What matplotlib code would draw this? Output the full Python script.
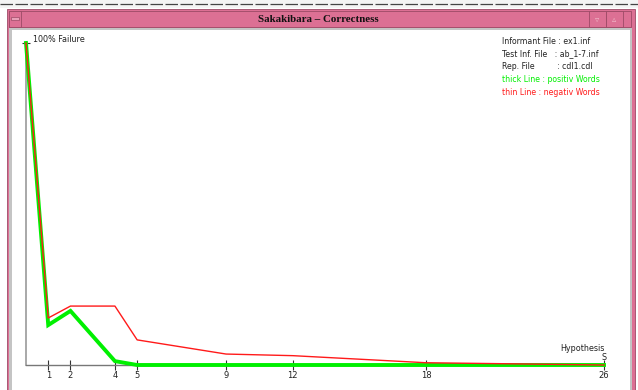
import numpy as np
import matplotlib
matplotlib.use("Agg")
import matplotlib.pyplot as plt
from matplotlib.patches import Rectangle

# values
hypothesis = [0, 1, 2, 4, 5, 9, 12, 18, 26]
positiv_fail = [100, 12.4, 16.8, 1.2, 0, 0, 0, 0, 0]
negativ_fail = [100, 14.6, 18.3, 18.3, 7.8, 3.4, 2.9, 0.7, 0]
tick_pos = [1, 2, 4, 5, 9, 12, 18, 26]

info_lines = ["Informant File : ex1.inf",
              "Test Inf. File   : ab_1-7.inf",
              "Rep. File         : cdl1.cdl",
              "thick Line : positiv Words",
              "thin Line : negativ Words"]
info_colors = ["#222222", "#222222", "#222222", "#00f000", "#ff1a1a"]

W, H = 638, 390
fig = plt.figure(figsize=(W / 100, H / 100), dpi=100)
fig.patch.set_facecolor("white")


def box(x0, y0, x1, y1, fc, ec="none", lw=0.0):
    # pixel coords with origin top-left
    fig.patches.append(Rectangle((x0 / W, 1 - y1 / H), (x1 - x0) / W, (y1 - y0) / H,
                                 transform=fig.transFigure, facecolor=fc,
                                 edgecolor=ec, linewidth=lw, zorder=-5))


pink = "#dc7094"
dark_pink = "#9c4a66"

# window behind and the frame
box(0, 0, 638, 8, "#f4f4f4")
fig.add_artist(plt.Line2D([0, 1], [1 - 4 / H, 1 - 4 / H], color="#444444",
                          lw=0.9, ls=(0, (10, 2)), transform=fig.transFigure, zorder=-4))
box(7, 9, 635, 390, pink, dark_pink, 0.6)
box(9, 11, 631, 27, pink, dark_pink, 0.6)
box(9, 11, 21, 27, pink, dark_pink, 0.6)
box(11, 17, 19, 20, "#e8a0b8", dark_pink, 0.5)
box(589, 11, 606, 27, pink, dark_pink, 0.6)
box(606, 11, 623, 27, pink, dark_pink, 0.6)
fig.text(597.5 / W, 1 - 19 / H, "\u25bf", color="#f0b8c8", fontsize=6, ha="center", va="center")
fig.text(614.5 / W, 1 - 19 / H, "\u25b5", color="#f0b8c8", fontsize=6, ha="center", va="center")
box(9, 28, 632, 390, "#c4c4c4")
box(12, 30, 630, 390, "white")

fig.text(318 / W, 1 - 19.5 / H, "Sakakibara \u2013 Correctness", fontsize=7.8,
         fontweight="bold", family="Liberation Serif", ha="center", va="center",
         color="#111111")

# plot area: x 0..26 -> px 26..604, y 0..100 -> px 365..43
ax = fig.add_axes([26 / W, 1 - 365 / H, 578 / W, 322 / H], zorder=2)
ax.set_xlim(0, 26)
ax.set_ylim(0, 100)
ax.set_facecolor("none")
for s in ["top", "right"]:
    ax.spines[s].set_visible(False)
ax.spines["left"].set_color("#999999")
ax.spines["bottom"].set_color("#777777")
ax.spines["left"].set_linewidth(1.2)
ax.spines["bottom"].set_linewidth(1.0)

ax.plot(hypothesis, positiv_fail, color="#00f000", lw=2.8, clip_on=False,
        solid_joinstyle="miter", zorder=3)
ax.plot(hypothesis, negativ_fail, color="#ff1a1a", lw=1.0, clip_on=False, zorder=4)

ax.set_xticks(tick_pos)
ax.set_xticklabels([str(t) for t in tick_pos])
ax.tick_params(axis="x", direction="inout", length=7, width=0.8, color="#333333",
               labelsize=6, labelcolor="#222222", pad=1)
ax.set_yticks([100])
ax.set_yticklabels([])
ax.tick_params(axis="y", direction="inout", length=6, width=0.8, color="#333333")

ax.text(0.3, 101, "100% Failure", fontsize=5.8, color="#222222",
        ha="left", va="center")
ax.text(26.05, 3.6, "Hypothesis", fontsize=5.8, color="#222222", ha="right", va="bottom")
ax.text(26.0, 1.0, "S", fontsize=5.8, color="#222222", ha="center", va="bottom")

for i, (t, c) in enumerate(zip(info_lines, info_colors)):
    fig.text(502 / W, 1 - (41 + i * 12.8) / H, t, fontsize=5.6, color=c,
             ha="left", va="center")

fig.savefig("out.png", dpi=100)
